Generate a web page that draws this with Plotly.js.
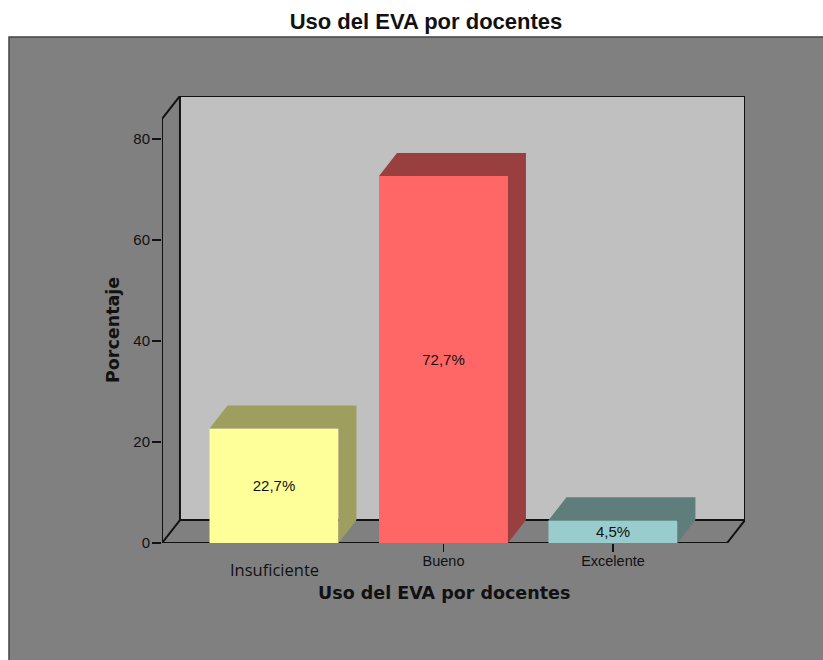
<!DOCTYPE html>
<html><head><meta charset="utf-8">
<script src="https://cdn.plot.ly/plotly-3.0.1.min.js"></script>
<style>html,body{margin:0;padding:0;background:#fff}#c{width:823px;height:660px}</style>
</head><body><div id="c"></div>
<script>
const categories = ['Insuficiente', 'Bueno', 'Excelente'];
const percentages = [22.7, 72.7, 4.5];
const barLabels = ['22,7%', '72,7%', '4,5%'];
const frontColors = ['#ffff99', '#ff6666', '#99cccc'];
const depthColors = ['#9e9e5e', '#9a3f3f', '#5e7d7b'];
const yTicks = [0, 20, 40, 60, 80];
const chartTitle = 'Uso del EVA por docentes';
const xTitle = 'Uso del EVA por docentes';
const yTitle = 'Porcentaje';

const W = 823, H = 660, L = 162, R = 78, T = 96, B = 117;
const xRange = [-0.661, 2.779], yRange = [0, 88.55];
const depthX = 0.106, depthY = 4.55, barWidth = 0.761;
const frontRight = 2.673, frontTop = 84;
const idx = categories.map((_, i) => i);

const depthTraces = idx.map(i => {
  const a = i - barWidth / 2, b = i + barWidth / 2, v = percentages[i];
  return {
    type: 'scatter', mode: 'lines', fill: 'toself', fillcolor: depthColors[i],
    line: {width: 0}, hoverinfo: 'skip', showlegend: false,
    x: [a, a + depthX, b + depthX, b + depthX, b, b, a],
    y: [v, v + depthY, v + depthY, depthY, 0, v, v]
  };
});
const bars = {
  type: 'bar', x: idx, y: percentages, width: barWidth,
  marker: {color: frontColors, line: {width: 0}},
  text: barLabels, textposition: 'inside', insidetextanchor: 'middle', textangle: 0,
  constraintext: 'none',
  textfont: {family: 'Liberation Sans', size: 15, color: '#111'},
  hoverinfo: 'skip', showlegend: false
};
const blk = {color: '#111', width: 2};
const seg = (x0, y0, x1, y1) => ({type: 'line', xref: 'x', yref: 'y', x0, y0, x1, y1, line: blk, layer: 'above'});
const bx0 = xRange[0] + depthX, bx1 = xRange[1];
const pw = W - L - R, ph = H - T - B;
const shapes = [
  {type: 'rect', xref: 'paper', yref: 'paper', layer: 'below',
   x0: (9 - L) / pw, x1: (W + 5 - L) / pw, y0: (H - B - H - 5) / ph, y1: (H - B - 37) / ph,
   fillcolor: '#808080', line: {color: '#444', width: 1.5}},
  {type: 'rect', xref: 'x', yref: 'y', layer: 'below', x0: bx0, x1: bx1, y0: depthY, y1: yRange[1],
   fillcolor: '#c0c0c0', line: {width: 0}},
  seg(bx0, depthY, bx0, yRange[1]), seg(bx0, yRange[1], bx1, yRange[1]), seg(bx1, yRange[1], bx1, depthY),
  {...seg(bx0, depthY, bx1, depthY), layer: 'below'},
  {...seg(xRange[0], 0, bx0, depthY), layer: 'below'},
  {...seg(bx1, depthY, frontRight, 0), layer: 'below'},
  {...seg(xRange[0], 0, frontRight, 0), layer: 'below'},
  seg(xRange[0], 0, xRange[0], frontTop), seg(xRange[0], frontTop, bx0, yRange[1])
];
const layout = {
  width: W, height: H, margin: {l: L, r: R, t: T, b: B},
  paper_bgcolor: '#ffffff', plot_bgcolor: 'rgba(0,0,0,0)', showlegend: false,
  title: {text: chartTitle, x: 426 / W, xanchor: 'center', y: 1 - 21 / H, yanchor: 'middle',
          font: {family: 'Liberation Sans', size: 22, color: '#111', weight: 700}},
  xaxis: {range: xRange, showgrid: false, zeroline: false, showline: false, fixedrange: true,
          tickmode: 'array', tickvals: idx.slice(1), ticktext: categories.slice(1),
          ticks: 'outside', ticklen: 8, tickwidth: 1.5, tickcolor: '#111', ticklabelstandoff: -3,
          tickfont: {family: 'Liberation Sans', size: 14.5, color: '#111'}},
  yaxis: {range: yRange, showgrid: false, zeroline: false, showline: false, fixedrange: true,
          tickmode: 'array', tickvals: yTicks, ticks: 'outside', ticklen: 9, tickwidth: 1.5, tickcolor: '#111',
          ticklabelstandoff: -1,
          tickfont: {family: 'Liberation Sans', size: 15, color: '#111'}},
  shapes,
  annotations: [
    {x: 0, xref: 'x', y: 0, yref: 'y', yshift: -26, yanchor: 'middle', showarrow: false,
     text: categories[0], font: {family: 'Open Sans', size: 16.5, color: '#111'}},
    {x: 444 / W, xref: 'x domain', xanchor: 'center', y: 0, yref: 'y', yshift: -50, yanchor: 'middle',
     showarrow: false, text: xTitle,
     font: {family: 'DejaVu Sans', size: 17.5, color: '#111', weight: 700}},
    {x: xRange[0], xref: 'x', xshift: 113 - L, y: 0, yref: 'y', yshift: 543 - 330, yanchor: 'middle',
     xanchor: 'center', textangle: -90, showarrow: false, text: yTitle,
     font: {family: 'DejaVu Sans', size: 17.5, color: '#111', weight: 700}}
  ]
};
layout.annotations[1].xref = 'x';
layout.annotations[1].x = (444 - L) / pw * (xRange[1] - xRange[0]) + xRange[0];
Plotly.newPlot('c', [bars, ...depthTraces], layout, {staticPlot: true, displayModeBar: false});
</script></body></html>
